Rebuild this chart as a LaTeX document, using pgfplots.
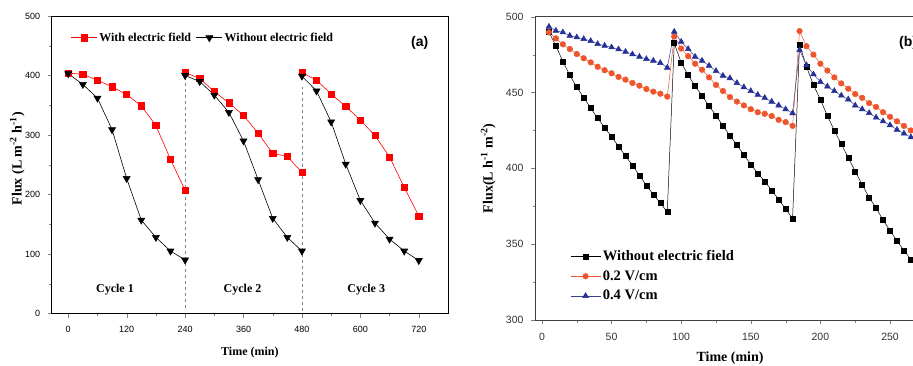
\documentclass[border=0pt]{standalone}
\usepackage{fontspec}
\setmainfont{Liberation Serif}
\setsansfont{Liberation Sans}
\usepackage{pgfplots}
\pgfplotsset{compat=1.18}
\definecolor{myred}{RGB}{238,85,45}
\definecolor{myblue}{RGB}{38,48,150}
\begin{document}
\begin{tikzpicture}
\path[use as bounding box] (0pt,0pt) rectangle (913pt,365pt);
% ---------------- panel (a)
\begin{axis}[
  at={(51.7pt,51.5pt)}, anchor=south west, scale only axis,
  width=396.3pt, height=297.5pt,
  xmin=-34, xmax=780, ymin=0, ymax=500,
  xtick={0,120,...,720}, minor x tick num=1,
  ytick={0,100,...,500}, minor y tick num=1,
  tick pos=left, tick align=outside,
  major tick length=4pt, minor tick length=2.5pt,
  axis line style={line width=0.9pt},
  ticklabel style={font=\sffamily\fontsize{9}{9}\selectfont},
  xticklabel style={yshift=-5pt},
  yticklabel style={xshift=-4pt},
  /pgf/number format/assume math mode=true,
  xlabel={Time (min)},
  ylabel={Flux (L m\textsuperscript{-2} h\textsuperscript{-1})},
  xlabel style={font=\bfseries\fontsize{12}{12}\selectfont, at={(axis description cs:0.5,-0.13)}, anchor=center},
  ylabel style={font=\bfseries\fontsize{14}{14}\selectfont, at={(axis description cs:-0.087,0.52)}, anchor=center},
  unbounded coords=jump,
  legend columns=2,
  legend style={draw=none, fill=none, at={(axis description cs:0.04,0.927)}, anchor=west,
    font=\bfseries\fontsize{12}{12}\selectfont,
    /tikz/every even column/.append style={column sep=3pt}},
  legend image code/.code={\draw[mark repeat=2,mark phase=2,#1] plot coordinates {(0pt,0pt) (13pt,0pt) (26pt,0pt)};},
]
\addplot[red, line width=0.6pt, mark=square*, mark size=3.1pt, mark options={solid}] coordinates {
(0,404) (30,402) (60,392) (90,381) (120,368) (150,349) (180,316) (210,259) (240,207)
(240,nan)
(240,405) (270,395) (300,373) (330,354) (360,333) (390,303) (420,269) (450,264) (480,237)
(480,nan)
(480,405) (510,392) (540,369) (570,348) (600,325) (630,299) (660,263) (690,212) (720,164)
};
\addlegendentry{With electric field}
\addplot[black, line width=0.6pt, mark=triangle*, mark size=4pt, mark options={solid, rotate=180}] coordinates {
(0,403) (30,385) (60,362) (90,309) (120,227) (150,157) (180,128) (210,105) (240,90)
(240,nan)
(240,400) (270,390) (300,367) (330,338) (360,290) (390,225) (420,160) (450,128) (480,105)
(480,nan)
(480,399) (510,374) (540,322) (570,251) (600,190) (630,152) (660,125) (690,105) (720,89)
};
\addlegendentry{Without electric field}
\addplot[gray, dashed, line width=0.6pt, forget plot] coordinates {(240,10) (240,400)};
\addplot[gray, dashed, line width=0.6pt, forget plot] coordinates {(480,5) (480,380)};
\node[font=\bfseries\fontsize{12}{12}\selectfont] at (axis cs:96,40) {Cycle 1};
\node[font=\bfseries\fontsize{12}{12}\selectfont] at (axis cs:358,40) {Cycle 2};
\node[font=\bfseries\fontsize{12}{12}\selectfont] at (axis cs:612,40) {Cycle 3};
\node[font=\sffamily\bfseries\fontsize{14}{14}\selectfont] at (axis cs:722,454) {(a)};
\end{axis}
% ---------------- panel (b)
\begin{axis}[
  at={(535pt,45pt)}, anchor=south west, scale only axis,
  width=378pt, height=303.3pt,
  xmin=-5, xmax=266.5, ymin=300, ymax=500,
  xtick={0,50,...,250}, minor x tick num=1,
  ytick={300,350,...,500}, minor y tick num=1,
  axis y line*=left,
  tick pos=left, tick align=outside,
  major tick length=4pt, minor tick length=2.5pt,
  axis line style={line width=0.7pt, black!75},
  ticklabel style={font=\sffamily\fontsize{10.5}{10.5}\selectfont, text=black!80},
  xticklabel style={yshift=-6pt},
  yticklabel style={xshift=-4pt},
  /pgf/number format/assume math mode=true,
  xlabel={Time (min)},
  ylabel={Flux(L h\textsuperscript{-1} m\textsuperscript{-2})},
  xlabel style={font=\bfseries\fontsize{14}{14}\selectfont, at={(axis description cs:0.516,-0.127)}, anchor=center},
  ylabel style={font=\bfseries\fontsize{14}{14}\selectfont, at={(axis description cs:-0.124,0.5)}, anchor=center},
  legend cell align=left,
  legend style={draw=none, fill=none, at={(axis description cs:0.085,0.243)}, anchor=north west,
    font=\bfseries\fontsize{14.5}{14.5}\selectfont, row sep=4.5pt},
  legend image code/.code={\draw[mark repeat=2,mark phase=2,#1] plot coordinates {(0pt,0pt) (15pt,0pt) (30pt,0pt)};},
]
\addplot[black, line width=0.5pt, mark=square*, mark size=2.5pt] coordinates {
(5,490) (10,480.7) (15,470.6) (20,461.4) (25,453.5) (30,446.7) (35,439.7) (40,433.1) (45,427) (50,420.8)
(55,414.5) (60,408.1) (65,402) (70,395.3) (75,388.8) (80,382.7) (85,377.2) (90,371.1)
(95,482.5) (100,469.7) (105,461.4) (110,454.4) (115,447.8) (120,441.2) (125,434.9) (130,428) (135,421.7)
(140,415.4) (145,409) (150,402.6) (155,396.7) (160,391.4) (165,385.5) (170,379.4) (175,373.2) (180,366.9)
(185,481.8) (190,467) (195,455) (200,445.4) (205,434.6) (210,425) (215,416) (220,407) (225,398)
(230,389.3) (235,380.7) (240,374) (245,365.8) (250,359) (255,352.2) (260,345.8) (265,340)
};
\addlegendentry{Without electric field}
\addplot[myred, line width=0.5pt, mark=*, mark size=2.8pt] coordinates {
(5,489.7) (10,485.7) (15,481.8) (20,478.7) (25,475.4) (30,472.6) (35,469.9) (40,467) (45,464.7) (50,462.7)
(55,460.3) (60,458.5) (65,456.3) (70,454.5) (75,452.3) (80,450.6) (85,449.2) (90,447.3)
(95,487) (100,479) (105,474) (110,469) (115,465) (120,460) (125,455) (130,451) (135,447)
(140,444) (145,441.5) (150,439) (155,437) (160,436) (165,434.5) (170,432) (175,430.5) (180,428)
(185,490.5) (190,480.5) (195,475) (200,469) (205,464.5) (210,460) (215,456) (220,452.5) (225,449)
(230,446.5) (235,443) (240,440.5) (245,437) (250,434) (255,431) (260,428) (265,425)
};
\addlegendentry{0.2 V/cm}
\addplot[myblue!80!gray, line width=0.5pt, mark=triangle*, mark size=3.3pt, mark options={fill=myblue, draw=myblue}] coordinates {
(5,493.4) (10,490.8) (15,489.7) (20,487.5) (25,486.4) (30,485.3) (35,484) (40,482) (45,480.9) (50,479.8)
(55,478.5) (60,476.9) (65,475.2) (70,473.6) (75,472.1) (80,471) (85,469.5) (90,466.4)
(95,490.1) (100,483.5) (105,478.7) (110,473.6) (115,471) (120,467.7) (125,464.2) (130,461.1) (135,459.5)
(140,456.3) (145,453.5) (150,451) (155,448.5) (160,446.5) (165,444) (170,441.5) (175,439) (180,436.4)
(185,478) (190,468) (195,462) (200,457) (205,454) (210,451) (215,448) (220,445.5) (225,441.5)
(230,439) (235,436.5) (240,433.5) (245,431) (250,428.5) (255,425.5) (260,423) (265,420.5)
};
\addlegendentry{0.4 V/cm}
\node[font=\sffamily\bfseries\fontsize{14}{14}\selectfont, anchor=west] at (axis cs:254,482.7) {(b)};
\end{axis}
\end{tikzpicture}
\end{document}
